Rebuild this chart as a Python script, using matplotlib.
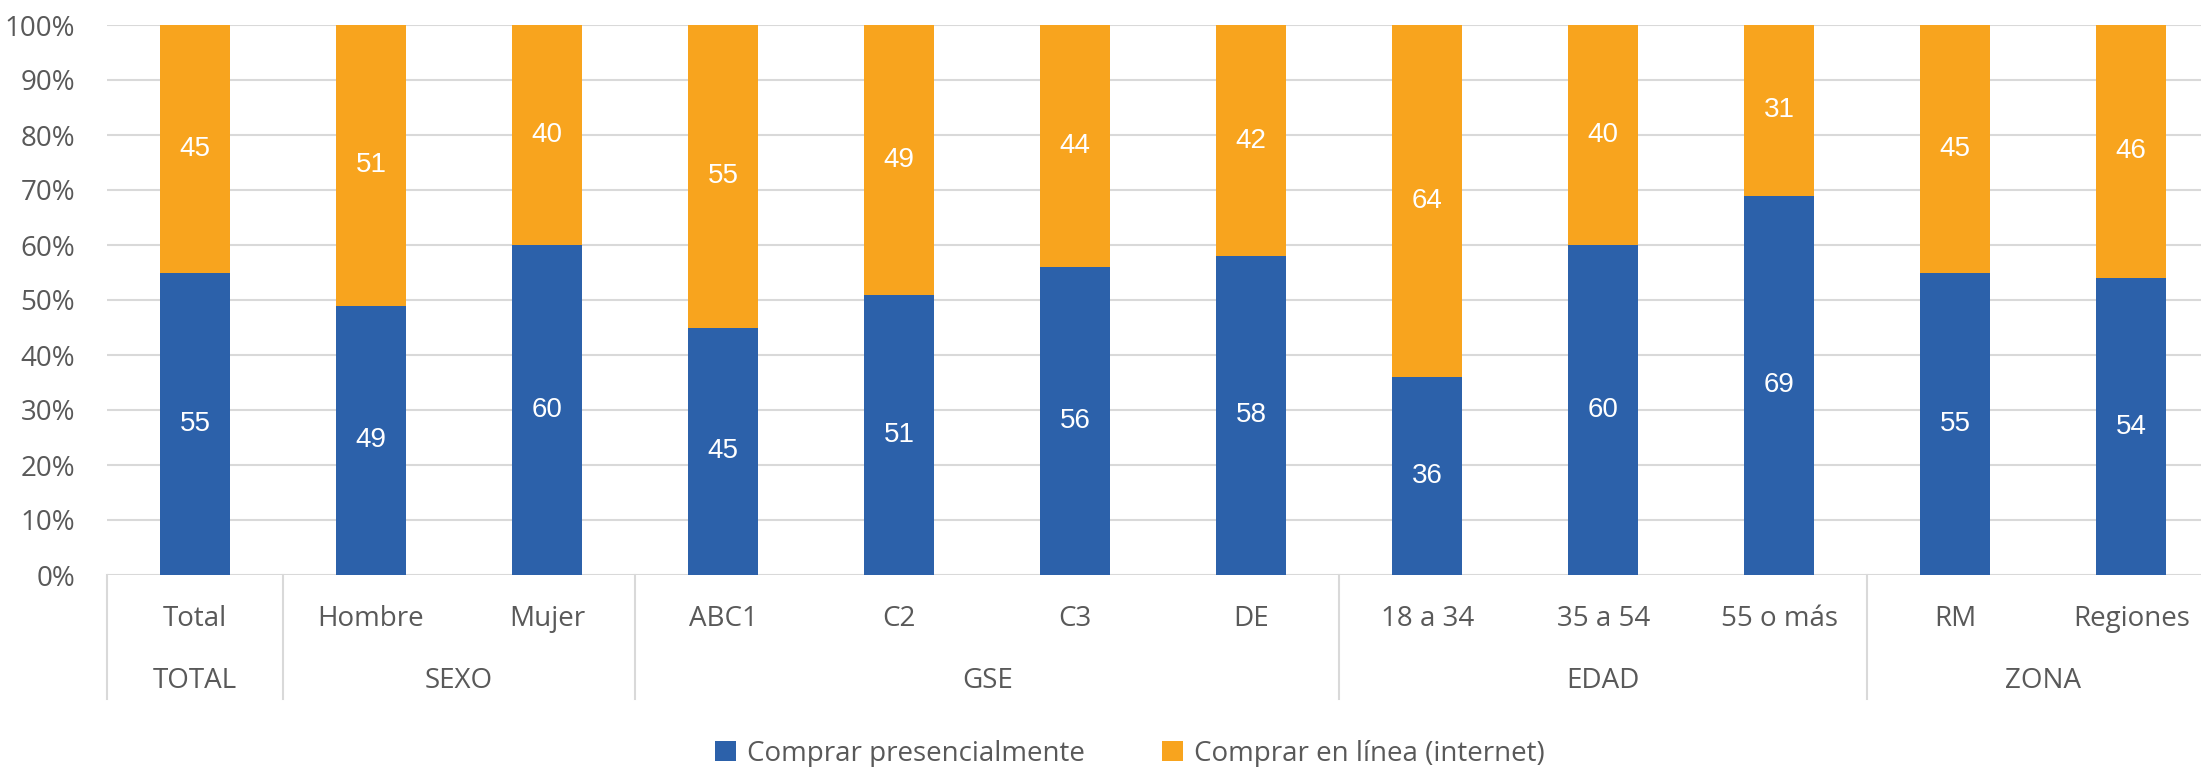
import matplotlib
matplotlib.use("Agg")
import matplotlib.pyplot as plt
from matplotlib.lines import Line2D
from matplotlib.patches import Patch
from matplotlib.ticker import PercentFormatter
import numpy as np

plt.rcParams['font.family'] = ['Open Sans', 'DejaVu Sans']

categories = ["Total", "Hombre", "Mujer", "ABC1", "C2", "C3", "DE",
              "18 a 34", "35 a 54", "55 o más", "RM", "Regiones"]
groups = ["TOTAL", "SEXO", "GSE", "EDAD", "ZONA"]
group_sizes = [1, 2, 4, 3, 2]
presencial = [55, 49, 60, 45, 51, 56, 58, 36, 60, 69, 55, 54]
en_linea = [45, 51, 40, 55, 49, 44, 42, 64, 40, 31, 45, 46]
series_names = ["Comprar presencialmente", "Comprar en línea (internet)"]

BLUE = "#2C61AA"
ORANGE = "#F8A41E"
GRAY_TXT = "#595959"
GRID = "#D9D9D9"
FS = 20
FS_BAR = 20

W, H = 2201, 767
fig = plt.figure(figsize=(W / 100, H / 100), dpi=100)
left_px, right_px = 107, 2201
top_px, zero_px = 25, 575
ax = fig.add_axes([left_px / W, (H - zero_px) / H,
                   (right_px - left_px) / W, (zero_px - top_px) / H])

x = np.arange(len(categories))
width = 0.4
ax.bar(x, presencial, width, color=BLUE, zorder=3)
ax.bar(x, en_linea, width, bottom=presencial, color=ORANGE, zorder=3)

for xi, p, o in zip(x, presencial, en_linea):
    ax.text(xi, p / 2, f"{p}", ha="center", va="center", color="white",
            fontsize=FS_BAR, family=["Liberation Sans"], zorder=4)
    ax.text(xi, p + o / 2, f"{o}", ha="center", va="center", color="white",
            fontsize=FS_BAR, family=["Liberation Sans"], zorder=4)

ax.set_ylim(0, 100)
ax.set_xlim(-0.5, 11.5 - 0.104)
ax.set_yticks(np.arange(0, 101, 10))
ax.yaxis.set_major_formatter(PercentFormatter(decimals=0))
ax.tick_params(axis="y", length=0, labelsize=FS, labelcolor=GRAY_TXT, pad=23)
ax.set_xticks([])
ax.grid(axis="y", color=GRID, linewidth=1.5, zorder=0)
for s in ax.spines.values():
    s.set_visible(False)

trans = ax.get_xaxis_transform()
row1_y = -0.080
row2_y = -0.193
sep_bottom = -0.225

for xi, name in zip(x, categories):
    ax.text(xi, row1_y, name, transform=trans, ha="center", va="center",
            fontsize=FS, color=GRAY_TXT)

start = 0
boundaries = [-0.5]
for g, n in zip(groups, group_sizes):
    center = start + (n - 1) / 2
    ax.text(center, row2_y, g, transform=trans, ha="center", va="center",
            fontsize=FS, color=GRAY_TXT)
    start += n
    boundaries.append(start - 0.5)

for b in boundaries:
    ax.add_line(Line2D([b, b], [0, sep_bottom], transform=trans, color=GRID,
                       linewidth=1.5, clip_on=False))

handles = [Patch(facecolor=BLUE, label=series_names[0]),
           Patch(facecolor=ORANGE, label=series_names[1])]
fig.legend(handles=handles, loc="center", bbox_to_anchor=(1130 / W, (H - 754) / H),
           ncol=2, frameon=False, fontsize=FS, labelcolor=GRAY_TXT,
           handlelength=0.75, handleheight=0.75, handletextpad=0.4, columnspacing=2.8)

fig.savefig("out.png", dpi=100, facecolor="white")
